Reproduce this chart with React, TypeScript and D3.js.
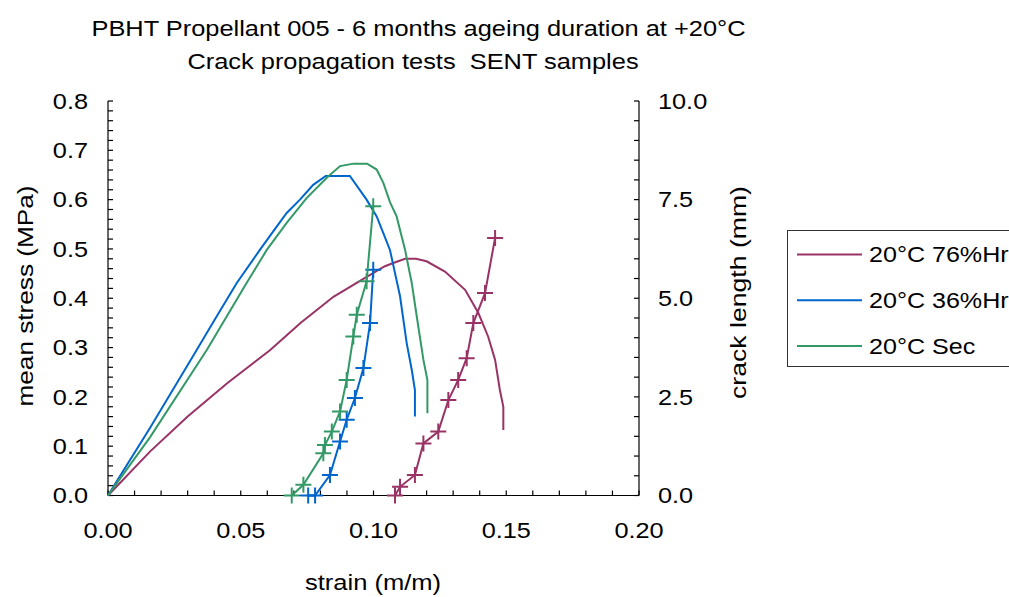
import React from "react";
import * as d3 from "d3";

const title1 = "PBHT Propellant 005 - 6 months ageing duration at +20°C";
const title2 = "Crack propagation tests  SENT samples";
const xLabel = "strain (m/m)";
const yLabelL = "mean stress (MPa)";
const yLabelR = "crack length (mm)";

const xTicks = [0, 0.05, 0.1, 0.15, 0.2];
const yTicksL = [0, 0.1, 0.2, 0.3, 0.4, 0.5, 0.6, 0.7, 0.8];
const yTicksR = [0, 2.5, 5, 7.5, 10];

const seriesNames = ["20°C 76%Hr", "20°C 36%Hr", "20°C Sec"];
const seriesColors = ["#993366", "#0066CC", "#339966"];

// stress curves [strain, stress MPa]
const stress76: [number, number][] = [
  [0, 0], [0.0158, 0.089], [0.03, 0.16], [0.045, 0.228], [0.0611, 0.295], [0.0725, 0.35],
  [0.0849, 0.403], [0.0976, 0.444], [0.1043, 0.465], [0.1077, 0.472], [0.1119, 0.48],
  [0.116, 0.48], [0.12, 0.475], [0.1269, 0.454], [0.1345, 0.417], [0.1395, 0.37],
  [0.1432, 0.322], [0.1458, 0.275], [0.1476, 0.214], [0.1489, 0.18], [0.1489, 0.133],
];
const stress36: [number, number][] = [
  [0, 0], [0.004, 0.035], [0.0158, 0.137], [0.0334, 0.295], [0.0409, 0.363], [0.0485, 0.431],
  [0.0572, 0.498], [0.0623, 0.536], [0.0673, 0.573], [0.0723, 0.6], [0.0773, 0.63],
  [0.082, 0.648], [0.0911, 0.648], [0.0974, 0.6], [0.1012, 0.566], [0.1037, 0.532],
  [0.1062, 0.498], [0.1081, 0.451], [0.11, 0.404], [0.1125, 0.309], [0.1144, 0.255],
  [0.1156, 0.214], [0.1156, 0.16],
];
const stressSec: [number, number][] = [
  [0, 0], [0.004, 0.03], [0.0158, 0.118], [0.0372, 0.295], [0.0447, 0.363], [0.0522, 0.431],
  [0.0598, 0.498], [0.0673, 0.553], [0.0748, 0.603], [0.0825, 0.645], [0.0874, 0.668],
  [0.0925, 0.673], [0.0976, 0.673], [0.1012, 0.661], [0.1037, 0.634], [0.1062, 0.595],
  [0.1087, 0.566], [0.1119, 0.498], [0.1144, 0.431], [0.1163, 0.363], [0.1188, 0.275],
  [0.1203, 0.234], [0.1203, 0.167],
];

// crack length curves [strain, crack mm]
const crack76: [number, number][] = [
  [0.1081, 0], [0.11, 0.22], [0.1156, 0.52], [0.1188, 1.32], [0.1244, 1.62], [0.1282, 2.42],
  [0.1319, 2.93], [0.1351, 3.48], [0.1376, 4.37], [0.142, 5.13], [0.1458, 6.53],
];
const crack36: [number, number][] = [
  [0.0754, 0], [0.078, 0], [0.0836, 0.52], [0.0874, 1.37], [0.0899, 1.92], [0.093, 2.47],
  [0.0962, 3.23], [0.0987, 4.37], [0.0999, 5.72],
];
const crackSec: [number, number][] = [
  [0.0692, 0], [0.0736, 0.27], [0.0811, 1.07], [0.0817, 1.28], [0.0843, 1.62], [0.0874, 2.13],
  [0.0899, 2.93], [0.0924, 4.03], [0.0937, 4.58], [0.0974, 5.43], [0.0999, 7.33],
];

const stressSeries = [stress76, stress36, stressSec];
const crackSeries = [crack76, crack36, crackSec];

const FONT = "'Liberation Sans', Arial, sans-serif";
const FS = 22;

function T(props: { x: number; y: number; sx: number; rot?: boolean; anchor?: string; size?: number; children: React.ReactNode }) {
  const { x, y, sx, rot, anchor, size, children } = props;
  const tr = `translate(${x},${y})${rot ? " rotate(-90)" : ""} scale(${sx},1)`;
  return (
    <text transform={tr} textAnchor={anchor || "start"} fontSize={size || FS} style={{ whiteSpace: "pre" }}>
      {children}
    </text>
  );
}

export default function App() {
  const W = 1009, H = 597;
  const left = 108, right = 639, top = 101, bottom = 495.5;
  const x = d3.scaleLinear().domain([0, 0.2]).range([left, right]);
  const yL = d3.scaleLinear().domain([0, 0.8]).range([bottom, top]);
  const yR = d3.scaleLinear().domain([0, 10]).range([bottom, top]);

  const lineL = d3.line<[number, number]>().x(d => x(d[0])).y(d => yL(d[1]));
  const lineR = d3.line<[number, number]>().x(d => x(d[0])).y(d => yR(d[1]));

  const minorX = d3.range(0, 21).map(i => i * 0.01);
  const minorL = d3.range(0, 41).map(i => i * 0.02);
  const minorR = d3.range(0, 21).map(i => i * 0.5);
  const tl = 5;
  const ms = 8;

  return (
    <svg width={W} height={H} style={{ position: "absolute", left: 0, top: 0, background: "#fff" }}
      fontFamily={FONT}>
      <rect x={0} y={0} width={W} height={H} fill="#fff" />
      <T x={418.5} y={36} sx={1.155} anchor="middle">{title1}</T>
      <T x={413} y={69} sx={1.155} anchor="middle">{title2}</T>

      {/* axes */}
      <g stroke="#000" strokeWidth={1.2}>
        <line x1={left} x2={left} y1={top} y2={bottom} />
        <line x1={right} x2={right} y1={top} y2={bottom} />
        <line x1={left} x2={right} y1={bottom} y2={bottom} />
        {minorX.map((v, i) => (
          <line key={"mx" + i} x1={x(v)} x2={x(v)} y1={bottom} y2={bottom - tl} />
        ))}
        {minorL.map((v, i) => (
          <line key={"ml" + i} x1={left} x2={left + tl} y1={yL(v)} y2={yL(v)} />
        ))}
        {minorR.map((v, i) => (
          <line key={"mr" + i} x1={right} x2={right - tl} y1={yR(v)} y2={yR(v)} />
        ))}
      </g>
      <g fill="#000">
        {xTicks.map((v, i) => (
          <T key={"xt" + i} x={x(v)} y={538} sx={1.15} anchor="middle">{v.toFixed(2)}</T>
        ))}
        {yTicksL.map((v, i) => (
          <T key={"yl" + i} x={88} y={yL(v) + 7.8} sx={1.15} anchor="end">{v.toFixed(1)}</T>
        ))}
        {yTicksR.map((v, i) => (
          <T key={"yr" + i} x={658} y={yR(v) + 7.8} sx={1.15} anchor="start">{v.toFixed(1)}</T>
        ))}
      </g>
      <T x={373} y={590} sx={1.16} anchor="middle">{xLabel}</T>
      <T x={32.5} y={296} sx={1.19} rot anchor="middle">{yLabelL}</T>
      <T x={746} y={292.5} sx={1.21} rot anchor="middle">{yLabelR}</T>

      {/* stress curves */}
      {stressSeries.map((s, i) => (
        <path key={"s" + i} d={lineL(s) || ""} fill="none" stroke={seriesColors[i]} strokeWidth={2} />
      ))}
      {/* crack curves */}
      {crackSeries.map((s, i) => (
        <g key={"c" + i}>
          <path d={lineR(s) || ""} fill="none" stroke={seriesColors[i]} strokeWidth={2} />
          {s.map((d, j) => (
            <path key={j}
              d={`M${x(d[0]) - ms},${yR(d[1])}H${x(d[0]) + ms}M${x(d[0])},${yR(d[1]) - ms}V${yR(d[1]) + ms}`}
              stroke={seriesColors[i]} strokeWidth={2} fill="none" />
          ))}
        </g>
      ))}

      {/* legend */}
      <rect x={787.5} y={230.5} width={300} height={136} fill="#fff" stroke="#333" strokeWidth={1} />
      {seriesNames.map((n, i) => (
        <g key={"lg" + i}>
          <line x1={797} x2={862} y1={254.5 + i * 45.7} y2={254.5 + i * 45.7} stroke={seriesColors[i]} strokeWidth={2} />
          <T x={869} y={254.5 + i * 45.7 + 7.8} sx={1.14}>{n}</T>
        </g>
      ))}
    </svg>
  );
}
